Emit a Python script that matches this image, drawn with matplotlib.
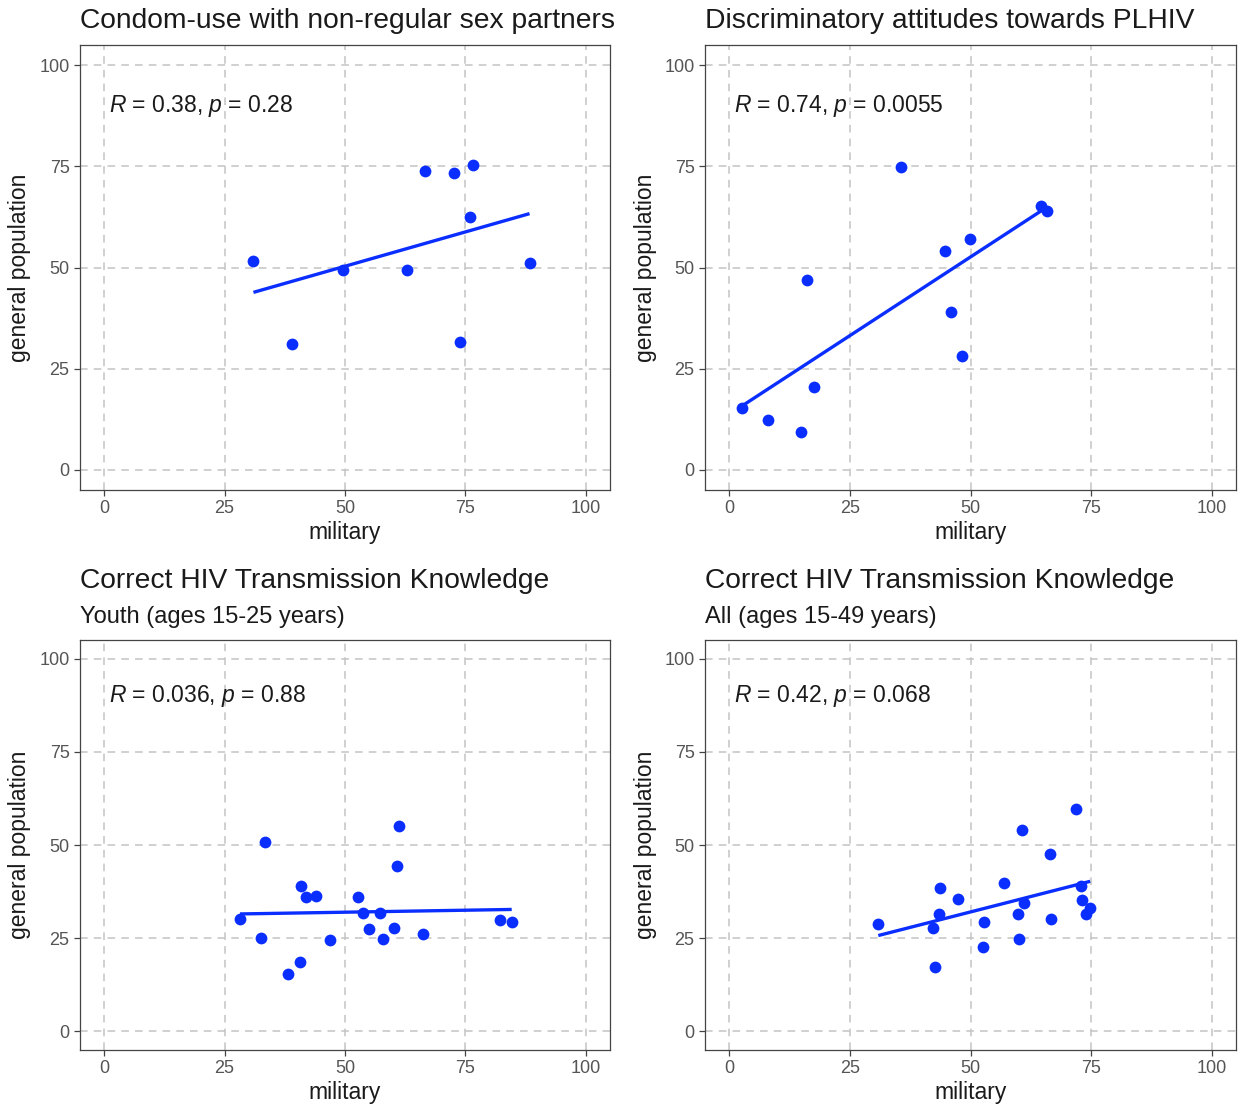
import numpy as np
import matplotlib
matplotlib.use('Agg')
import matplotlib.pyplot as plt

plt.rcParams['font.family'] = ['Liberation Sans', 'DejaVu Sans']
plt.rcParams['mathtext.fontset'] = 'custom'
plt.rcParams['mathtext.rm'] = 'Liberation Sans'
plt.rcParams['mathtext.it'] = 'Liberation Sans:italic'

## data
# condom use
condom_mil = [31.0, 39.1, 49.5, 62.8, 66.5, 72.6, 76.5, 76.0, 73.8, 88.3]
condom_gen = [51.7, 31.1, 49.5, 49.3, 73.8, 73.4, 75.3, 62.6, 31.6, 51.0]
# discriminatory attitudes
discr_mil = [2.6, 8.1, 14.8, 17.5, 16.2, 35.5, 44.8, 49.9, 46.0, 48.2, 64.7, 65.8]
discr_gen = [15.3, 12.3, 9.4, 20.4, 46.8, 74.9, 54.1, 57.1, 39.0, 28.2, 65.1, 64.0]
# knowledge, youth
youth_mil = [28.2, 32.6, 33.4, 38.1, 40.6, 40.9, 42.0, 43.9, 46.9, 52.7,
             53.8, 55.0, 57.3, 57.8, 60.1, 60.7, 61.2, 66.1, 82.1, 84.6]
youth_gen = [30.2, 25.0, 50.9, 15.5, 18.7, 39.1, 36.0, 36.2, 24.5, 36.0,
             31.7, 27.4, 31.7, 24.7, 27.8, 44.4, 55.0, 26.0, 30.0, 29.4]
# knowledge, all ages
all_mil = [30.9, 42.3, 42.7, 43.4, 43.7, 47.4, 52.7, 52.6, 57.0, 59.9,
           60.6, 61.1, 60.1, 66.5, 66.7, 71.9, 72.8, 73.0, 74.8, 73.9]
all_gen = [28.9, 27.6, 17.4, 31.4, 38.4, 35.4, 29.3, 22.6, 39.8, 31.4,
           54.1, 34.4, 24.9, 47.6, 30.1, 59.7, 39.0, 35.2, 33.2, 31.4]

titles = ['Condom-use with non-regular sex partners',
          'Discriminatory attitudes towards PLHIV',
          'Correct HIV Transmission Knowledge',
          'Correct HIV Transmission Knowledge']
subtitles = [None, None, 'Youth (ages 15-25 years)', 'All (ages 15-49 years)']
stats = ['$\\it{R}$ = 0.38, $\\it{p}$ = 0.28',
         '$\\it{R}$ = 0.74, $\\it{p}$ = 0.0055',
         '$\\it{R}$ = 0.036, $\\it{p}$ = 0.88',
         '$\\it{R}$ = 0.42, $\\it{p}$ = 0.068']
xs = [condom_mil, discr_mil, youth_mil, all_mil]
ys = [condom_gen, discr_gen, youth_gen, all_gen]
ticks = [0, 25, 50, 75, 100]

W, H = 1239, 1109
fig = plt.figure(figsize=(W/100, H/100), dpi=100)

# axes boxes in pixels: left, top, right, bottom
boxes = [(80, 45, 610, 490), (705, 45, 1236, 490),
         (80, 640, 610, 1050), (705, 640, 1236, 1050)]
# title / subtitle centres (pixels from top)
title_y = [21, 21, 581, 581]
sub_y = [None, None, 617, 617]

blue = '#0a2eff'
txt = '#1a1a1a'
for i in range(4):
    l, t, r, b = boxes[i]
    ax = fig.add_axes([l/W, 1-b/H, (r-l)/W, (b-t)/H])
    x = np.array(xs[i])
    y = np.array(ys[i])
    ax.scatter(x, y, s=72, color=blue, zorder=3, linewidths=0)
    # linear fit
    k, c = np.polyfit(x, y, 1)
    xl = np.array([x.min(), x.max()])
    ax.plot(xl, k*xl + c, color=blue, lw=2.4, zorder=2, solid_capstyle='butt')
    ax.set_xlim(-5, 105)
    ax.set_ylim(-5, 105)
    ax.set_xticks(ticks)
    ax.set_yticks(ticks)
    ax.grid(True, color='#c4c4c4', ls=(0, (5, 4)), lw=1.1)
    ax.set_axisbelow(True)
    for sp in ax.spines.values():
        sp.set_color('#444444')
        sp.set_linewidth(0.9)
    ax.tick_params(colors='#444444', labelcolor='#555555', labelsize=13,
                   length=4, width=0.9)
    ax.set_xlabel('military', fontsize=16.5, color=txt, va='center')
    ax.set_ylabel('general population', fontsize=16.5, color=txt, va='center')
    ax.xaxis.set_label_coords(0.5, -(43)/(b-t))
    ax.yaxis.set_label_coords(-60/(r-l), 0.5)
    ax.text(1, 90, stats[i], fontsize=16.5, color=txt, va='center', ha='left')
    fig.text(l/W, 1-title_y[i]/H, titles[i], fontsize=20.3, color=txt,
             ha='left', va='center')
    if subtitles[i] is not None:
        fig.text(l/W, 1-sub_y[i]/H, subtitles[i], fontsize=17, color=txt,
                 ha='left', va='center')

fig.savefig('out.png', dpi=100)
